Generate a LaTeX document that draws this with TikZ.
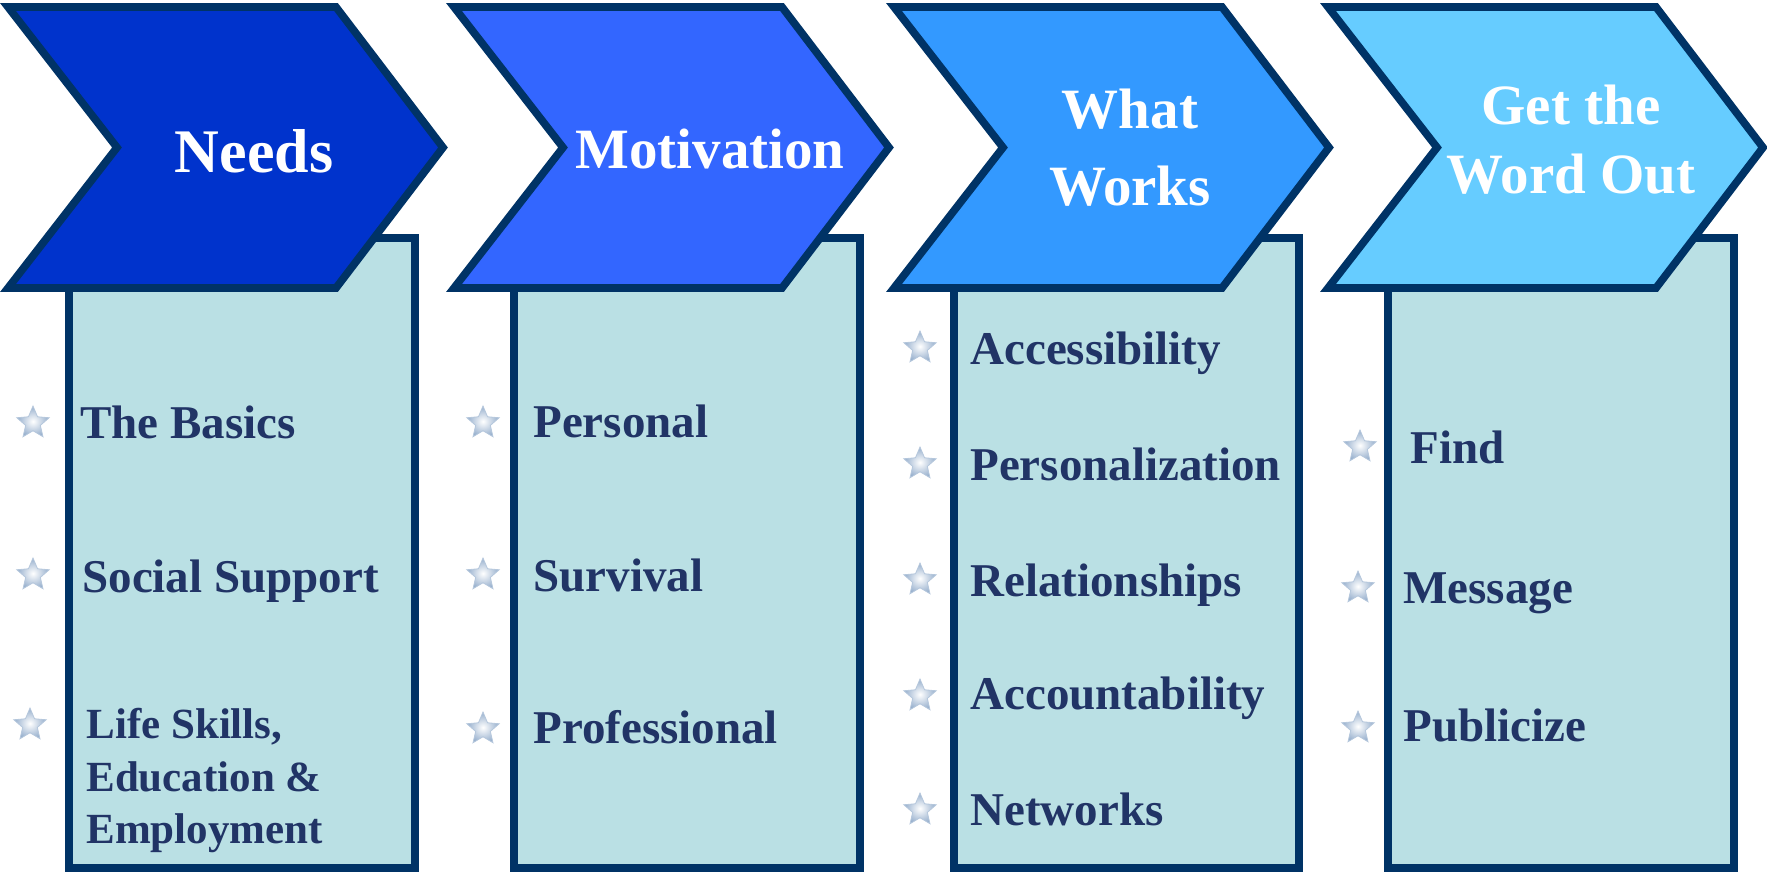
\documentclass[tikz,border=0pt]{standalone}
\usepackage{fontspec}
\setmainfont{Liberation Serif}
\usetikzlibrary{shapes.geometric}
\definecolor{bord}{RGB}{0,51,102}
\definecolor{cA}{RGB}{0,51,204}
\definecolor{cB}{RGB}{51,102,255}
\definecolor{cC}{RGB}{51,153,255}
\definecolor{cD}{RGB}{102,204,255}
\definecolor{boxfill}{RGB}{186,224,228}
\definecolor{itemtxt}{RGB}{33,52,102}
\definecolor{starrim}{RGB}{150,175,205}
\tikzset{
  chev/.style={draw=bord, line width=3.85pt, line join=miter},
  panel/.style={draw=bord, line width=3.85pt, fill=boxfill},
  head/.style={text=white, font=\bfseries\fontsize{28.5}{30}\selectfont, inner sep=0pt, anchor=base},
  item/.style={text=itemtxt, font=\bfseries\fontsize{23.5}{26}\selectfont, inner sep=0pt, anchor=base west},
  itemsm/.style={item, font=\bfseries\fontsize{21.5}{26}\selectfont},
  bullet/.style={star, star points=5, star point ratio=2.2, minimum size=17pt, inner sep=0pt,
    draw=starrim!70, line width=0.4pt, shading=radial, inner color=white, outer color=starrim}
}
\newcommand\chevronshape[2]{%
  \draw[chev, fill=#2] (#1+8,7) -- (#1+336,7) -- (#1+443,147.5) -- (#1+336,288)
    -- (#1+8,288) -- (#1+117,147.5) -- cycle;}
\begin{document}
\begin{tikzpicture}[x=0.5pt, y=-0.5pt]
\useasboundingbox (0,0) rectangle (1767,874);
% panels
\draw[panel] (69,238) rectangle (415,868);
\draw[panel] (514,238) rectangle (860,868);
\draw[panel] (954,238) rectangle (1299,868);
\draw[panel] (1388,238) rectangle (1734,868);
% chevrons
\chevronshape{0}{cA}
\chevronshape{446}{cB}
\chevronshape{886}{cC}
\chevronshape{1320}{cD}
% headings
\node[head, font=\bfseries\fontsize{31}{33}\selectfont] (hA) at (254,172) {Needs};
\node[head] (hB) at (710,168) {Motivation};
\node[head] (hC1) at (1130,128) {What};
\node[head] (hC2) at (1130,205) {Works};
\node[head] (hD1) at (1571,124) {Get the};
\node[head] (hD2) at (1571,193) {Word Out};
% column 1
\node[bullet] (s11) at (33,423) {};
\node[bullet] (s12) at (33,575) {};
\node[bullet] (s13) at (30,725) {};
\node[item] (t11) at (80,438) {The Basics};
\node[item] (t12) at (82,592) {Social Support};
\node[itemsm] (t13a) at (86,738) {Life Skills,};
\node[itemsm] (t13b) at (86,791) {Education \&};
\node[itemsm] (t13c) at (86,843) {Employment};
% column 2
\node[bullet] (s21) at (483,423) {};
\node[bullet] (s22) at (483,575) {};
\node[bullet] (s23) at (483,729) {};
\node[item] (t21) at (533,437) {Personal};
\node[item] (t22) at (533,591) {Survival};
\node[item] (t23) at (533,743) {Professional};
% column 3
\node[bullet] (s31) at (920,348) {};
\node[bullet] (s32) at (920,464) {};
\node[bullet] (s33) at (920,580) {};
\node[bullet] (s34) at (920,696) {};
\node[bullet] (s35) at (920,810) {};
\node[item] (t31) at (970,364) {Accessibility};
\node[item] (t32) at (970,480) {Personalization};
\node[item] (t33) at (970,596) {Relationships};
\node[item] (t34) at (970,709) {Accountability};
\node[item] (t35) at (970,825) {Networks};
% column 4
\node[bullet] (s41) at (1360,447) {};
\node[bullet] (s42) at (1358,588) {};
\node[bullet] (s43) at (1358,728) {};
\node[item] (t41) at (1410,463) {Find};
\node[item] (t42) at (1403,603) {Message};
\node[item] (t43) at (1403,741) {Publicize};
\end{tikzpicture}
\end{document}
